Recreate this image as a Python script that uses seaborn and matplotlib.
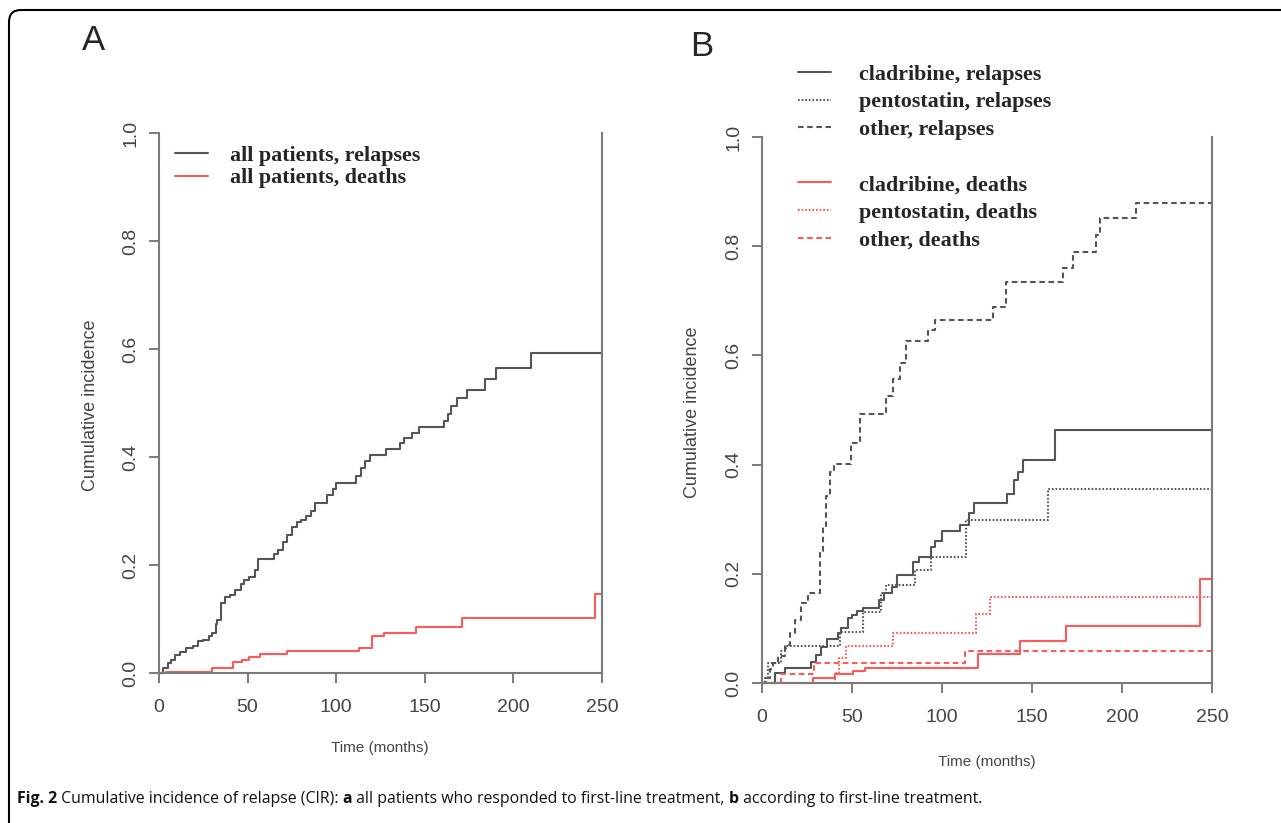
import matplotlib
matplotlib.use('Agg')
import matplotlib.pyplot as plt
import matplotlib.transforms as mtransforms
from matplotlib.lines import Line2D
from matplotlib.patches import FancyBboxPatch
import seaborn as sns
import pandas as pd

# ---- data ----
# panel A: all patients
a_rel_t = [0, 2, 5, 7, 9, 12, 15, 19, 22, 25, 28, 30, 32, 33, 35, 37, 40, 43, 46, 48,
           51, 54, 56, 65, 67, 70, 72, 75, 78, 80, 83, 86, 88, 95, 98, 100, 111, 114, 116, 119,
           128, 136, 138, 143, 147, 161, 163, 165, 168, 174, 184, 190, 210, 250]
a_rel_cir = [0, .010, .018, .025, .033, .038, .046, .050, .059, .062, .068, .075, .090, .098, .130, .141, .145, .154, .165, .172,
             .178, .190, .212, .220, .228, .243, .255, .271, .280, .283, .290, .300, .315, .330, .340, .352, .365, .380, .393, .404,
             .415, .426, .435, .445, .456, .467, .480, .494, .509, .525, .544, .564, .592, .592]
a_dth_t = [0, 4, 30, 42, 47, 51, 57, 72, 113, 120, 127, 145, 171, 246, 250]
a_dth_cir = [0, .002, .010, .020, .025, .030, .035, .040, .046, .069, .075, .086, .101, .146, .146]

# panel B: by first-line treatment
cla_rel_t = [0, 7, 13, 27, 30, 33, 36, 42, 44, 48, 50, 53, 56, 65, 68, 72, 75, 84, 87, 94,
             96, 100, 110, 115, 118, 136, 140, 142, 145, 163, 250]
cla_rel_cir = [0, .018, .028, .039, .051, .066, .080, .091, .100, .119, .125, .131, .137, .152, .164, .176, .198, .222, .231, .250,
               .260, .279, .290, .312, .329, .346, .371, .387, .409, .464, .464]
pen_rel_t = [0, 1.5, 3.4, 10.8, 13.5, 43.2, 56.1, 66.3, 69.1, 84.8, 94.1, 113.5, 159, 250]
pen_rel_cir = [0, .009, .037, .058, .068, .093, .130, .164, .180, .207, .231, .298, .356, .356]
oth_rel_t = [0, 2.4, 4.3, 6.1, 8.9, 12.6, 15.4, 18.2, 21.9, 25.6, 32.1, 34, 35.8, 37.6, 40,
             49.6, 54.3, 69.1, 72.8, 76.5, 80.2, 92.2, 95.9, 128.4, 135.7, 167.2, 172.8, 185.5, 187.6, 208, 250]
oth_rel_cir = [0, .009, .025, .037, .049, .070, .091, .115, .146, .164, .241, .287, .342, .387, .401,
               .439, .493, .525, .556, .586, .626, .647, .665, .688, .734, .760, .790, .820, .852, .880, .880]
cla_dth_t = [0, 28.4, 40.4, 50.6, 57, 120, 143.2, 169.1, 243.6, 250]
cla_dth_cir = [0, .0086, .016, .022, .028, .053, .077, .104, .190, .190]
pen_dth_t = [0, 40.4, 43, 46.9, 72.8, 119.1, 126.5, 250]
pen_dth_cir = [0, .018, .045, .068, .091, .127, .157, .157]
oth_dth_t = [0, 10.8, 29, 112.6, 250]
oth_dth_cir = [0, .017, .036, .059, .059]

x_ticks = [0, 50, 100, 150, 200, 250]
y_ticks = [0, 0.2, 0.4, 0.6, 0.8, 1.0]
y_ticklabels = ['0.0', '0.2', '0.4', '0.6', '0.8', '1.0']

GRAY = '#555555'
RED = '#ff5a5a'
SOLID = '-'
DOTTED = (0, (1.2, 1.4))
DASHED = (0, (4, 2.6))

sns.set_style('ticks')
plt.rcParams['font.family'] = ['Liberation Sans', 'DejaVu Sans']
plt.rcParams['lines.scale_dashes'] = False

W, H = 1281, 823
fig = plt.figure(figsize=(W / 100, H / 100), dpi=100)

# axes placed in pixels
axA = fig.add_axes([159 / W, 1 - 673 / H, (602 - 159) / W, (673 - 133) / H])
axB = fig.add_axes([762 / W, 1 - 683 / H, (1212 - 762) / W, (683 - 137) / H])


def step_line(ax, t, cir, color, ls, label):
    df = pd.DataFrame({'time': t, 'cir': cir})
    sns.lineplot(data=df, x='time', y='cir', ax=ax, color=color, linestyle=ls,
                 drawstyle='steps-post', linewidth=1.5, label=label,
                 estimator=None, errorbar=None, clip_on=False)


def style_ax(ax):
    ax.set_xlim(0, 250)
    ax.set_ylim(0, 1)
    ax.set_xticks(x_ticks)
    ax.set_yticks(y_ticks)
    ax.set_yticklabels(y_ticklabels, rotation=90, va='center')
    ax.spines['top'].set_visible(False)
    for s in ['left', 'right', 'bottom']:
        ax.spines[s].set_color('#7a7a7a')
        ax.spines[s].set_linewidth(1.5)
    ax.tick_params(length=7, width=1.4, color='#7a7a7a', labelsize=14,
                   labelcolor='#444444')
    ax.tick_params(axis='x', pad=12)
    ax.tick_params(axis='y', pad=7)
    ax.set_xlabel('Time (months)', fontsize=11, color='#444444')
    ax.set_ylabel('Cumulative incidence', fontsize=13, color='#444444')


# panel A
step_line(axA, a_rel_t, a_rel_cir, GRAY, SOLID, 'all patients, relapses')
step_line(axA, a_dth_t, a_dth_cir, RED, SOLID, 'all patients, deaths')
style_ax(axA)
axA.xaxis.set_label_coords(0.499, -0.126)
axA.yaxis.set_label_coords(-0.135, 0.496)

# panel B
step_line(axB, cla_rel_t, cla_rel_cir, GRAY, SOLID, 'cladribine, relapses')
step_line(axB, pen_rel_t, pen_rel_cir, GRAY, DOTTED, 'pentostatin, relapses')
step_line(axB, oth_rel_t, oth_rel_cir, GRAY, DASHED, 'other, relapses')
step_line(axB, cla_dth_t, cla_dth_cir, RED, SOLID, 'cladribine, deaths')
step_line(axB, pen_dth_t, pen_dth_cir, RED, DOTTED, 'pentostatin, deaths')
step_line(axB, oth_dth_t, oth_dth_cir, RED, DASHED, 'other, deaths')
style_ax(axB)
axB.xaxis.set_label_coords(0.5, -0.132)
axB.yaxis.set_label_coords(-0.136, 0.496)

leg_font = {'family': 'Liberation Serif', 'weight': 'bold', 'size': 15.8}

h, l = axA.get_legend_handles_labels()
axA.legend(h, l, loc='upper left', bbox_to_anchor=(0.036, 0.977), frameon=False,
           borderpad=0, borderaxespad=0, handlelength=1.5, handletextpad=1.0,
           labelspacing=0.1, prop=leg_font)

h, l = axB.get_legend_handles_labels()
blank = Line2D([], [], linestyle='none')
h = h[:3] + [blank] + h[3:]
l = l[:3] + [' '] + l[3:]
axB.legend(h, l, loc='upper left', bbox_to_anchor=(0.08, 1.133), frameon=False,
           borderpad=0, borderaxespad=0, handlelength=1.5, handletextpad=1.3,
           labelspacing=0.33, prop=leg_font)

# panel letters
fig.text(94 / W, 1 - 41 / H, 'A', fontsize=25, ha='center', va='center')
fig.text(702 / W, 1 - 47 / H, 'B', fontsize=25, ha='center', va='center')

# caption, bold pieces placed one after another
caption = [('Fig. 2', 'bold'), (' Cumulative incidence of relapse (CIR): ', 'normal'),
           ('a', 'bold'), (' all patients who responded to first-line treatment, ', 'normal'),
           ('b', 'bold'), (' according to first-line treatment.', 'normal')]
fig.canvas.draw()
renderer = fig.canvas.get_renderer()
x = 17
for txt, wt in caption:
    t = fig.text(x / W, 1 - 803 / H, txt, fontsize=11.4, fontweight=wt,
                 family='Open Sans', va='baseline', ha='left', color='#111111')
    x = t.get_window_extent(renderer).x1

# rounded border round the whole figure (only left/top visible)
frame = FancyBboxPatch((9, -14), 1300, 823 - 10 + 14, boxstyle='round,pad=0,rounding_size=12',
                       transform=mtransforms.IdentityTransform(), fill=False,
                       edgecolor='black', linewidth=1.5)
fig.patches.append(frame)

fig.savefig('out.png', dpi=100)
